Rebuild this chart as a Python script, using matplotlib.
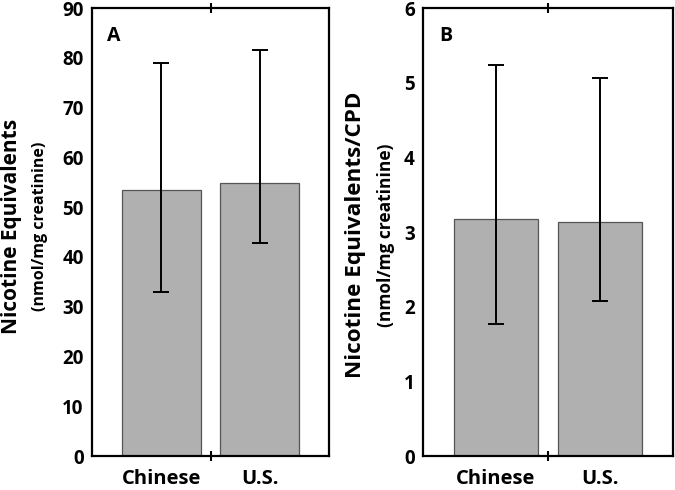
import matplotlib
matplotlib.use("Agg")
import matplotlib.pyplot as plt

categories = ["Chinese", "U.S."]
ne_means = [53.5, 54.9]
ne_low = [32.9, 42.7]
ne_high = [78.9, 81.6]
necpd_means = [3.17, 3.13]
necpd_low = [1.77, 2.07]
necpd_high = [5.23, 5.06]

plt.rcParams['font.family'] = ['Open Sans', 'DejaVu Sans']
plt.rcParams['font.weight'] = 'bold'

fig = plt.figure(figsize=(6.75, 4.9), dpi=100)
W, H = 675, 490

def make_panel(rect, means, low, high, ymax, yticks, letter, label, label_x, sub_x,
               label_y, label_fs, sub_fs):
    ax = fig.add_axes(rect)
    x = list(range(len(categories)))
    yerr = [[m - l for m, l in zip(means, low)], [h - m for m, h in zip(means, high)]]
    ax.bar(x, means, width=0.8, color='#b0b0b0', edgecolor='#555555', linewidth=0.9, zorder=2)
    ax.errorbar(x, means, yerr=yerr, fmt='none', ecolor='black', elinewidth=1.4,
                capsize=6, capthick=1.4, zorder=3)
    ax.set_xlim(-0.7, 1.7)
    ax.set_ylim(0, ymax)
    ax.set_yticks(yticks)
    ax.set_yticklabels([str(t) for t in yticks], fontsize=13.5, fontweight='bold')
    ax.tick_params(axis='y', length=0, pad=6)
    ax.set_xticks(x)
    ax.set_xticklabels(categories, fontsize=14.5, fontweight='bold')
    ax.tick_params(axis='x', which='major', length=0, pad=9)
    ax.set_xticks([0.5], minor=True)
    ax.tick_params(axis='x', which='minor', direction='inout', length=7, width=1.5,
                   top=True, bottom=True)
    for s in ax.spines.values():
        s.set_linewidth(1.6)
    ax.text(0.065, 0.96, letter, transform=ax.transAxes, fontsize=14,
            fontweight='bold', va='top', ha='left')
    fig.text(label_x / W, 1 - label_y / H, label, rotation=90, fontsize=label_fs,
             fontweight='bold', ha='center', va='center')
    fig.text(sub_x / W, 1 - label_y / H, "(nmol/mg creatinine)", rotation=90,
             fontsize=sub_fs, fontweight='bold', ha='center', va='center')
    return ax

bottom = 1 - 456 / H
height = (456 - 8) / H
make_panel([92 / W, bottom, (329 - 92) / W, height], ne_means, ne_low, ne_high,
           90, list(range(0, 91, 10)), "A", "Nicotine Equivalents", 12, 40,
           226, 15, 11.5)
make_panel([423 / W, bottom, (673 - 423) / W, height], necpd_means, necpd_low, necpd_high,
           6, list(range(0, 7)), "B", "Nicotine Equivalents/CPD", 356, 386,
           235, 16.2, 12.5)

fig.savefig("out.png", dpi=100)
